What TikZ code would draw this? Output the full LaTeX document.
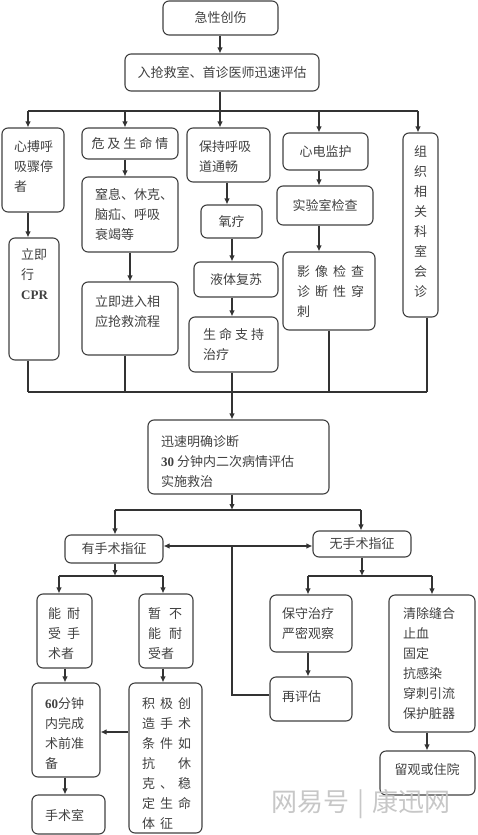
\documentclass[tikz,border=0pt]{standalone}
\usepackage{fontspec}
\setmainfont{Liberation Serif}
\newfontfamily\cjk{Noto Sans CJK SC}
\usetikzlibrary{arrows.meta}
\newcommand\gapp[1]{\hspace{#1pt}}
\newcommand\colc[1]{\makebox[18pt][l]{#1}}
\newcommand\bx[5]{\node[box, minimum width={(#4)-(#2)}, minimum height={(#5)-(#3)}] (#1) at ({((#2)+(#4))/2},{((#3)+(#5))/2}) {};}
\newcommand\tx[4]{\node[txt, anchor=north west] (#1) at (#2,{(#3)-4.8}) {#4};}
\newcommand\ct[2]{\node[txt] (#1t) at (#1) {#2};}
\tikzset{
  box/.style={draw=black!75, line width=1.1pt, rounded corners=6pt, inner sep=0pt},
  txt/.style={font=\cjk\fontsize{13}{20}\selectfont, text=black!75, align=left, inner sep=0pt},
  ln/.style={draw=black!80, line width=1.1pt},
  arr/.style={ln, -{Latex[length=6pt,width=5.5pt]}},
  arrs/.style={ln, {Latex[length=6pt,width=5.5pt]}-{Latex[length=6pt,width=5.5pt]}},
}
\begin{document}
\begin{tikzpicture}[x=1pt,y=-1pt]
\useasboundingbox (0,0) rectangle (477,835);
% top
\bx{a1}{163}{1}{278}{35} \ct{a1}{急性创伤}
\bx{a2}{125}{54}{319}{91} \ct{a2}{入抢救室、首诊医师迅速评估}
\coordinate (k1) at (28,111);
\coordinate (k2) at (125,111);
\coordinate (kc) at (220,111);
\coordinate (k4) at (319,111);
\coordinate (k5) at (418,111);
\draw[arr] (kc |- a1.south) -- (kc |- a2.north);
\draw[ln] (kc |- a2.south) -- (kc);
\draw[ln] (k1) -- (k5);
% column b
\bx{b1}{2}{128}{64}{212} \tx{b1t}{14}{145}{心搏呼\\吸骤停\\者}
\bx{b2}{9}{238}{59}{360} \tx{b2t}{21}{253}{立即\\行\\{\rmfamily\bfseries CPR}}
% column c
\bx{c1}{82}{128}{178}{159} \ct{c1}{危\gapp{3}及\gapp{3}生\gapp{3}命\gapp{3}情}
\bx{c2}{82}{177}{178}{252} \tx{c2t}{95}{193}{窒息、休克、\\脑疝、呼吸\\衰竭等}
\bx{c3}{82}{282}{178}{355} \tx{c3t}{95}{300}{立即进入相\\应抢救流程}
% column d
\bx{d1}{187}{128}{270}{182} \tx{d1t}{199}{145}{保持呼吸\\道通畅}
\bx{d2}{201}{205}{262}{238} \ct{d2}{氧疗}
\bx{d3}{194}{262}{278}{297} \ct{d3}{液体复苏}
\bx{d4}{189}{317}{278}{372} \tx{d4t}{203}{333}{生\gapp{3}命\gapp{3}支\gapp{3}持\\治疗}
% column e
\bx{e1}{283}{133}{368}{170} \ct{e1}{心电监护}
\bx{e2}{277}{186}{373}{225} \ct{e2}{实验室检查}
\bx{e3}{283}{252}{375}{330} \tx{e3t}{297}{270}{影\gapp{5}像\gapp{5}检\gapp{5}查\\诊\gapp{5}断\gapp{5}性\gapp{5}穿\\刺}
% column f
\bx{f1}{403}{133}{438}{317}
\node[txt, align=center, anchor=north] (f1t) at (420.5,{150-4.8}) {组\\织\\相\\关\\科\\室\\会\\诊};
% drops from upper bus
\draw[arr] (k1) -- (k1 |- b1.north);
\draw[arr] (k2) -- (k2 |- c1.north);
\draw[arr] (kc) -- (kc |- d1.north);
\draw[arr] (k4) -- (k4 |- e1.north);
\draw[arr] (k5) -- (k5 |- f1.north);
% inner arrows
\coordinate (cx2) at (130,0);
\coordinate (dx1) at (227,0);
\draw[arr] (k1 |- b1.south) -- (k1 |- b2.north);
\draw[arr] (k2 |- c1.south) -- (k2 |- c2.north);
\draw[arr] (cx2 |- c2.south) -- (cx2 |- c3.north);
\draw[arr] (dx1 |- d1.south) -- (dx1 |- d2.north);
% lower bus
\coordinate (m1) at (28,392);
\coordinate (m2) at (125,392);
\coordinate (m3) at (232,392);
\coordinate (m4) at (329,392);
\coordinate (m5) at (427,392);
\draw[arr] (m3 |- d2.south) -- (m3 |- d3.north);
\draw[arr] (m3 |- d3.south) -- (m3 |- d4.north);
\draw[arr] (k4 |- e1.south) -- (k4 |- e2.north);
\draw[arr] (k4 |- e2.south) -- (k4 |- e3.north);
\draw[ln] (m1) -- (m5);
\draw[ln] (m1 |- b2.south) -- (m1);
\draw[ln] (m2 |- c3.south) -- (m2);
\draw[ln] (m4 |- e3.south) -- (m4);
\draw[ln] (m5 |- f1.south) -- (m5);
% diagnosis
\bx{g}{148}{420}{329}{494}
\tx{gt}{161}{440}{迅速明确诊断\\{\rmfamily\bfseries 30} 分钟内二次病情评估\\实施救治}
\draw[arr] (m3 |- d4.south) -- (m3 |- g.north);
\coordinate (n0) at (232,510);
\coordinate (n1) at (115,510);
\coordinate (n2) at (361,510);
\draw[arr] (m3 |- g.south) -- (n0);
\draw[ln] (n1) -- (n2);
% surgery indication
\bx{h1}{65}{535}{163}{563} \ct{h1}{有手术指征}
\bx{h2}{313}{531}{411}{557} \ct{h2}{无手术指征}
\draw[arr] (n1) -- (n1 |- h1.north);
\draw[arr] (n2) -- (n2 |- h2.north);
\coordinate (j) at (232,546);
\draw[arrs] (j -| h1.east) -- (j -| h2.west);
% left branch
\coordinate (p0) at (115,576);
\coordinate (p1) at (59,576);
\coordinate (p2) at (163,576);
\draw[arr] (p0 |- h1.south) -- (p0);
\draw[ln] (p1) -- (p2);
\bx{i1}{37}{594}{92}{668} \tx{i1t}{48}{612}{能\gapp{6}耐\\受\gapp{6}手\\术者}
\bx{i2}{139}{594}{193}{668} \tx{i2t}{148}{612}{暂\gapp{8}不\\能\gapp{8}耐\\受者}
\draw[arr] (p1) -- (p1 |- i1.north);
\draw[arr] (p2) -- (p2 |- i2.north);
\bx{i3}{32}{683}{100}{777} \tx{i3t}{45}{702}{{\rmfamily\bfseries 60}分钟\\内完成\\术前准\\备}
\bx{i4}{129}{683}{202}{833} \tx{i4t}{142}{702}{\colc{积}\colc{极}创\\\colc{造}\colc{手}术\\\colc{条}\colc{件}如\\\colc{抗}\colc{}休\\\colc{克}\colc{、}稳\\\colc{定}\colc{生}命\\\colc{体}征}
\bx{i5}{32}{795}{105}{834} \tx{i5t}{45}{814}{手术室}
\coordinate (q1) at (65,0);
\coordinate (q2) at (0,732);
\draw[arr] (q1 |- i1.south) -- (q1 |- i3.north);
\draw[arr] (p2 |- i2.south) -- (p2 |- i4.north);
\draw[arr] (q2 -| i4.west) -- (q2 -| i3.east);
\draw[arr] (q1 |- i3.south) -- (q1 |- i5.north);
% right branch
\coordinate (s0) at (362,576);
\coordinate (s1) at (308,576);
\coordinate (s2) at (432,576);
\coordinate (s3) at (427,0);
\draw[arr] (s0 |- h2.south) -- (s0);
\draw[ln] (s1) -- (s2);
\bx{r1}{270}{595}{352}{652} \tx{r1t}{282}{612}{保守治疗\\严密观察}
\bx{r2}{270}{677}{352}{721} \tx{r2t}{282}{695}{再评估}
\bx{r3}{389}{595}{475}{732} \tx{r3t}{403}{612}{清除缝合\\止血\\固定\\抗感染\\穿刺引流\\保护脏器}
\bx{r4}{380}{751}{475}{795} \node[txt] (r4t) at (427,770) {留观或住院};
\draw[arr] (s1) -- (s1 |- r1.north);
\draw[arr] (s2) -- (s2 |- r3.north);
\draw[arr] (s1 |- r1.south) -- (s1 |- r2.north);
\draw[arr] (s3 |- r3.south) -- (s3 |- r4.north);
% re-evaluation loop
\coordinate (jl) at (232,695);
\draw[ln] (jl -| r2.west) -- (jl) -- (j);
% watermark
\node[font=\cjk\fontsize{26}{26}\selectfont, text=black!22] (wm) at (361,804) {网易号\hspace{8pt}|\hspace{8pt}康迅网};
\end{tikzpicture}
\end{document}
